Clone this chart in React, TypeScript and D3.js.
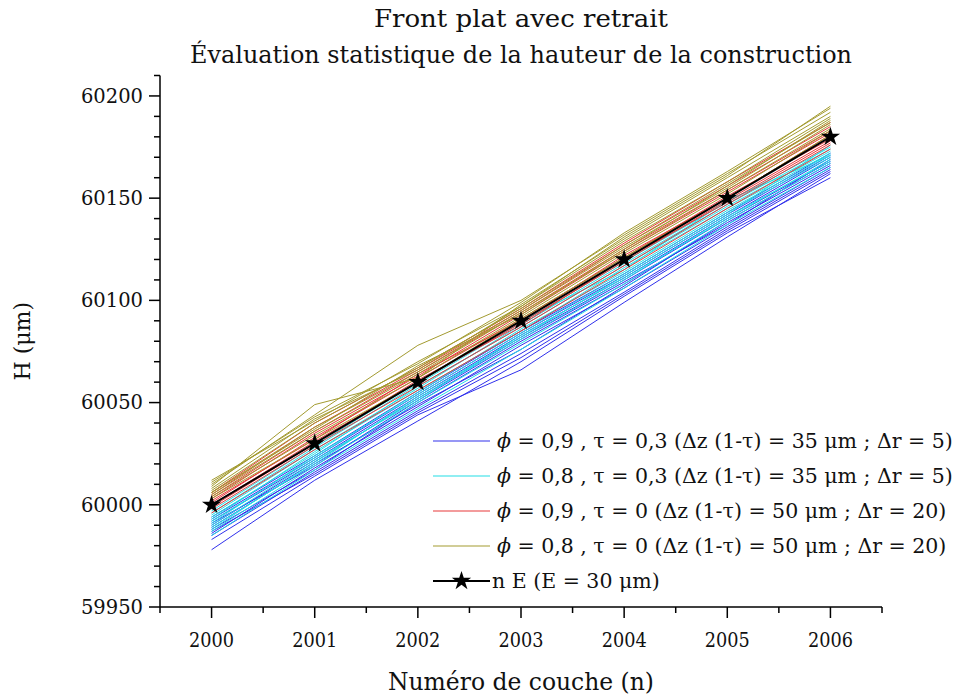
import React from "react";
import * as d3 from "d3";

const layers = [2000, 2001, 2002, 2003, 2004, 2005, 2006];
const yMajorTicks = [59950, 60000, 60050, 60100, 60150, 60200];

const blueSeries = [
  [59978, 60012, 60041, 60070, 60102, 60133, 60160],
  [59983, 60014, 60044, 60066, 60099, 60131, 60162],
  [59985, 60016, 60046, 60074, 60104, 60135, 60164],
  [59986, 60018, 60048, 60078, 60106, 60136, 60165],
  [59988, 60017, 60050, 60080, 60108, 60138, 60166],
  [59989, 60020, 60049, 60076, 60107, 60139, 60167],
  [59990, 60021, 60052, 60082, 60110, 60140, 60168],
  [59991, 60019, 60051, 60081, 60109, 60137, 60169],
  [59992, 60022, 60053, 60083, 60111, 60141, 60170],
  [59993, 60023, 60054, 60084, 60112, 60142, 60171],
  [59987, 60015, 60045, 60072, 60103, 60134, 60163],
  [59994, 60024, 60055, 60085, 60113, 60143, 60172],
];

const cyanSeries = [
  [59985, 60017, 60047, 60076, 60106, 60137, 60165],
  [59987, 60019, 60050, 60079, 60108, 60139, 60167],
  [59988, 60021, 60052, 60081, 60110, 60141, 60168],
  [59990, 60022, 60051, 60083, 60111, 60140, 60169],
  [59991, 60024, 60054, 60084, 60113, 60143, 60170],
  [59992, 60023, 60055, 60086, 60114, 60144, 60171],
  [59993, 60026, 60056, 60085, 60116, 60145, 60172],
  [59994, 60025, 60058, 60087, 60117, 60146, 60173],
  [59995, 60027, 60057, 60088, 60118, 60147, 60174],
  [59996, 60028, 60059, 60089, 60119, 60148, 60175],
  [59989, 60020, 60053, 60082, 60112, 60142, 60176],
  [59997, 60029, 60060, 60090, 60115, 60149, 60171],
];

const redSeries = [
  [59996, 60027, 60056, 60085, 60115, 60145, 60174],
  [59998, 60029, 60058, 60087, 60117, 60147, 60176],
  [60000, 60031, 60060, 60089, 60119, 60149, 60178],
  [60001, 60033, 60062, 60091, 60121, 60151, 60179],
  [60002, 60032, 60064, 60090, 60122, 60150, 60181],
  [60003, 60035, 60063, 60093, 60124, 60153, 60182],
  [60004, 60036, 60065, 60094, 60125, 60154, 60183],
  [60005, 60038, 60066, 60095, 60127, 60156, 60185],
  [60006, 60040, 60067, 60096, 60128, 60158, 60187],
  [59999, 60030, 60061, 60088, 60120, 60148, 60177],
];

const oliveSeries = [
  [60003, 60032, 60060, 60091, 60121, 60150, 60181],
  [60004, 60034, 60062, 60092, 60123, 60152, 60183],
  [60005, 60036, 60064, 60094, 60124, 60154, 60184],
  [60006, 60038, 60065, 60095, 60126, 60155, 60186],
  [60007, 60040, 60067, 60096, 60127, 60157, 60187],
  [60008, 60042, 60066, 60097, 60129, 60158, 60189],
  [60009, 60049, 60062, 60098, 60130, 60160, 60190],
  [60010, 60044, 60078, 60100, 60132, 60162, 60192],
  [60011, 60043, 60069, 60099, 60133, 60163, 60194],
  [60012, 60041, 60070, 60097, 60131, 60161, 60195],
  [60006, 60037, 60068, 60093, 60125, 60156, 60188],
];

const nominal = [60000, 60030, 60060, 60090, 60120, 60150, 60180];

const legendLabels = [
  " = 0,9 , τ = 0,3 (Δz (1-τ) = 35 μm ; Δr = 5)",
  " = 0,8 , τ = 0,3 (Δz (1-τ) = 35 μm ; Δr = 5)",
  " = 0,9 , τ = 0 (Δz (1-τ) = 50 μm ; Δr = 20)",
  " = 0,8 , τ = 0 (Δz (1-τ) = 50 μm ; Δr = 20)",
];
const nominalLabel = "n E (E = 30 μm)";

const groupColors = ["#3030ec", "#22dde6", "#e8383a", "#a39b30"];

const FONT = "'DejaVu Serif', serif";

export default function App() {
  const W = 956;
  const H = 700;
  const left = 160;
  const right = 882;
  const top = 75.5;
  const bottom = 607;

  const x = d3.scaleLinear().domain([1999.5, 2006.5]).range([left, right]);
  const y = d3.scaleLinear().domain([59950, 60210]).range([bottom, top]);

  const line = d3
    .line<number>()
    .x((_, i) => x(layers[i]))
    .y((d) => y(d));

  const yMinor = d3.range(59950, 60211, 10).filter((v) => v % 50 !== 0);
  const xMinor = d3.range(1999.5, 2007, 1);

  const groups = [blueSeries, cyanSeries, redSeries, oliveSeries];
  const star = d3.symbol().type(d3.symbolStar).size(115)();

  const legX1 = 433;
  const legX2 = 490;
  const legText = 497;
  const legRow0 = 441;
  const legStep = 35;

  return (
    <svg width={W} height={H} style={{ position: "absolute", left: 0, top: 0, background: "#fff" }}>
      <rect width={W} height={H} fill="#fff" />
      <g fontFamily={FONT} fill="#111">
        <text x={521} y={27} textAnchor="middle" fontSize={25} textLength={294} lengthAdjust="spacingAndGlyphs">
          Front plat avec retrait
        </text>
        <text x={521} y={63} textAnchor="middle" fontSize={25} textLength={662} lengthAdjust="spacingAndGlyphs">
          Évaluation statistique de la hauteur de la construction
        </text>
      </g>

      {/* series */}
      {groups.map((g, gi) => (
        <g key={gi} fill="none" stroke={groupColors[gi]} strokeWidth={1}>
          {g.map((s, si) => (
            <path key={si} d={line(s) || ""} />
          ))}
        </g>
      ))}
      <path d={line(nominal) || ""} fill="none" stroke="#000" strokeWidth={2} />
      {nominal.map((v, i) => (
        <path key={i} d={star || ""} transform={`translate(${x(layers[i])},${y(v)})`} fill="#000" />
      ))}

      {/* axes */}
      <g stroke="#000" strokeWidth={1.5}>
        <line x1={left} x2={left} y1={top} y2={bottom} />
        <line x1={left} x2={right} y1={bottom} y2={bottom} />
        {yMajorTicks.map((t) => (
          <line key={t} x1={left - 11} x2={left} y1={y(t)} y2={y(t)} />
        ))}
        {yMinor.map((t) => (
          <line key={t} x1={left - 6} x2={left} y1={y(t)} y2={y(t)} />
        ))}
        {layers.map((t) => (
          <line key={t} x1={x(t)} x2={x(t)} y1={bottom} y2={bottom + 11} />
        ))}
        {xMinor.map((t) => (
          <line key={t} x1={x(t)} x2={x(t)} y1={bottom} y2={bottom + 6} />
        ))}
      </g>
      <g fontFamily={FONT} fill="#111">
        {yMajorTicks.map((t) => (
          <text key={t} x={left - 17} y={y(t)} dy="0.35em" textAnchor="end" fontSize={19.5}>
            {t}
          </text>
        ))}
        {layers.map((t) => (
          <text key={t} x={x(t)} y={bottom + 40} textAnchor="middle" fontSize={21} textLength={45} lengthAdjust="spacingAndGlyphs">
            {t}
          </text>
        ))}
      </g>
      <text
        fontFamily={FONT}
        fontSize={22}
        fill="#111"
        textAnchor="middle"
        transform={`translate(30,${(top + bottom) / 2}) rotate(-90)`}
      >
        H (μm)
      </text>
      <text fontFamily={FONT} fontSize={25} fill="#111" textAnchor="middle" x={521} y={690} textLength={266} lengthAdjust="spacingAndGlyphs">
        Numéro de couche (n)
      </text>

      {/* legend */}
      <g fontFamily={FONT} fontSize={20.5} fill="#111">
        {legendLabels.map((l, i) => {
          const cy = legRow0 + i * legStep;
          return (
            <g key={i}>
              <line x1={legX1} x2={legX2} y1={cy} y2={cy} stroke={groupColors[i]} strokeWidth={1.2} />
              <text x={legText} y={cy} dy="0.35em">
                <tspan fontStyle="italic">ϕ</tspan>
                {l}
              </text>
            </g>
          );
        })}
        {(() => {
          const cy = legRow0 + 4 * legStep;
          return (
            <g>
              <line x1={legX1} x2={legX2} y1={cy} y2={cy} stroke="#000" strokeWidth={2} />
              <path d={star || ""} transform={`translate(${(legX1 + legX2) / 2},${cy})`} fill="#000" />
              <text x={legText - 5} y={cy} dy="0.35em">
                {nominalLabel}
              </text>
            </g>
          );
        })()}
      </g>
    </svg>
  );
}
